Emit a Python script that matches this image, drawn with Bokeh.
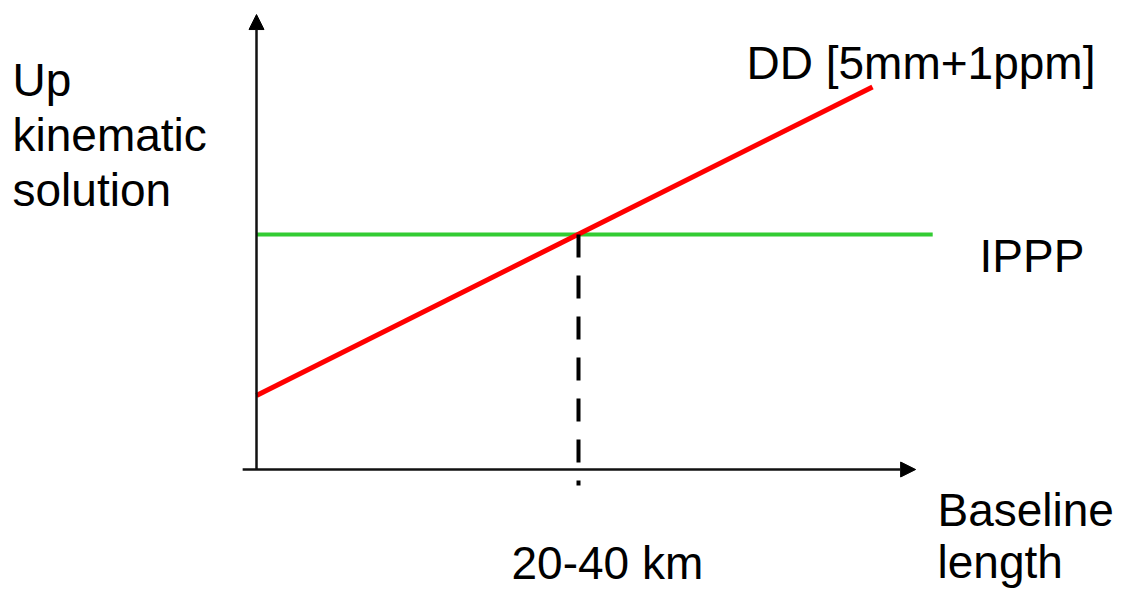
from bokeh.plotting import figure
from bokeh.models import Range1d, Arrow, NormalHead, Label
from bokeh.embed import file_html
from bokeh.resources import INLINE

# ---- schematic data (abstract units: crossover baseline = 1, IPPP accuracy = 1) ----
dd_baseline = [0.0, 1.913]          # baseline length
dd_error = [0.315, 1.628]           # DD [5mm+1ppm] error grows with baseline
ippp_baseline = [0.0, 2.10]
ippp_error = [1.0, 1.0]             # IPPP constant error
crossover = 1.0                     # 20-40 km
axis_x_extent = [-0.043, 2.047]
axis_y_extent = [0.0, 1.936]

y_label_lines = ["Up", "kinematic", "solution"]
x_label_lines = ["Baseline", "length"]
dd_label = "DD [5mm+1ppm]"
ippp_label = "IPPP"
cross_label = "20-40 km"

FONT = "Liberation Sans"
FS = "46px"

W, H = 1121, 590
X0, Y0, SX, SY = 256, 469, 322, 235
DY = 18  # label vertical offset correction

p = figure(width=W, height=H, output_backend="svg", toolbar_location=None,
           x_range=Range1d((0 - X0) / SX, (W - X0) / SX),
           y_range=Range1d((Y0 - H) / SY, Y0 / SY),
           min_border=0)
p.axis.visible = False
p.grid.visible = False
p.outline_line_color = None
p.background_fill_color = "white"
p.border_fill_color = "white"

# axes with arrow heads
p.add_layout(Arrow(end=NormalHead(size=15, fill_color="black", line_color="black", line_width=1),
                   x_start=axis_x_extent[0], y_start=0, x_end=axis_x_extent[1], y_end=0,
                   line_color="#111111", line_width=2.5))
p.add_layout(Arrow(end=NormalHead(size=15, fill_color="black", line_color="black", line_width=1),
                   x_start=0, y_start=axis_y_extent[0], x_end=0, y_end=axis_y_extent[1],
                   line_color="#111111", line_width=2.5))

# IPPP (green) and DD (red)
p.line(ippp_baseline, ippp_error, line_color="#33cc33", line_width=4)
p.line(dd_baseline, dd_error, line_color="#ff0000", line_width=5)

# dashed crossover marker
p.line([crossover, crossover], [ippp_error[0], -0.068], line_color="black",
       line_width=4, line_dash="23 18")

def lab(txt, px, py):
    p.add_layout(Label(x=(px - X0) / SX, y=(Y0 - (py - DY)) / SY, text=txt,
                       text_font=FONT, text_font_size=FS, text_color="black",
                       text_baseline="alphabetic", text_align="left"))

for i, t in enumerate(y_label_lines):
    lab(t, 12, 97 + 55 * i)
lab(dd_label, 746, 80)
lab(ippp_label, 979, 273)
for i, t in enumerate(x_label_lines):
    lab(t, 937, 527 + 52 * i)
lab(cross_label, 511, 580)

open("out.html", "w").write(file_html(p, INLINE))
